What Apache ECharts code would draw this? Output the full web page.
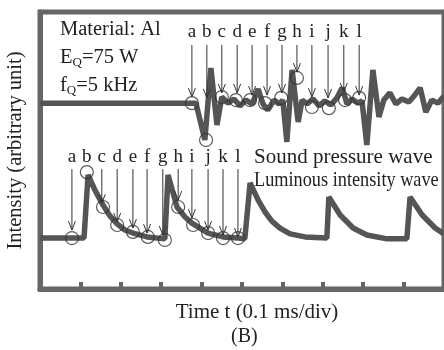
<!DOCTYPE html>
<html>
<head>
<meta charset="utf-8">
<script src="https://cdn.jsdelivr.net/npm/echarts@6/dist/echarts.min.js"></script>
<style>
  html, body { margin: 0; padding: 0; background: #fff; }
  #chart { width: 444px; height: 350px; }
</style>
</head>
<body>
<div id="chart"></div>
<script>
// time in divisions (0.1 ms/div), intensity in arbitrary units (0-100)
var soundWave = [
  [0, 67.1], [3.86, 67.1], [4.08, 53.8], [4.23, 79.8], [4.38, 59.2], [4.50, 69.3],
  [4.65, 67.1], [4.80, 68.6], [4.95, 66.1], [5.10, 68.2], [5.25, 66.8], [5.40, 72.2],
  [5.52, 66.8], [5.64, 64.6], [5.79, 68.2], [5.92, 66.8], [6.01, 68.2], [6.11, 53.1],
  [6.24, 79.1], [6.39, 60.3], [6.49, 68.2], [6.61, 66.8], [6.76, 68.6], [6.91, 66.1],
  [7.05, 67.9], [7.20, 66.4], [7.35, 69.0], [7.48, 72.6], [7.60, 66.8], [7.72, 68.6],
  [7.87, 67.1], [7.97, 67.9], [8.09, 52.0], [8.24, 79.1], [8.39, 62.1], [8.51, 68.2],
  [8.66, 70.8], [8.81, 66.8], [8.96, 68.6], [9.13, 67.5], [9.26, 69.7], [9.41, 72.6],
  [9.55, 63.9], [9.70, 68.2], [9.85, 67.1], [10, 69.7]
];
var lightWave = [
  [0, 18.4], [1.09, 18.4], [1.19, 41.2], [1.36, 35.7], [1.56, 30.3], [1.73, 26.4],
  [1.91, 23.5], [2.10, 21.3], [2.30, 20.2], [2.65, 18.8], [3.09, 18.1], [3.17, 41.2],
  [3.39, 29.6], [3.59, 26.0], [3.76, 23.8], [4.16, 20.2], [4.53, 18.8], [4.90, 18.4],
  [5.07, 18.1], [5.20, 38.3], [5.40, 32.1], [5.57, 27.8], [5.74, 24.5], [5.94, 22.0],
  [6.19, 19.9], [6.56, 18.8], [7.10, 18.4], [7.15, 33.2], [7.43, 26.7], [7.75, 22.0],
  [8.09, 19.5], [8.59, 18.1], [9.08, 18.1], [9.16, 33.2], [9.46, 26.7], [9.78, 22.0],
  [10, 19.9]
];

var letters = ['a', 'b', 'c', 'd', 'e', 'f', 'g', 'h', 'i', 'j', 'k', 'l'];

// upper set: arrow x, arrow start, arrow tip, circle x, circle y
var upArrowX = [3.76, 4.13, 4.50, 4.88, 5.25, 5.62, 5.99, 6.36, 6.73, 7.13, 7.52, 7.90];
var upArrowTop = 88.1;
var upArrowTip = [69.3, 69.0, 70.8, 70.8, 70.0, 70.0, 70.8, 78.3, 69.3, 69.0, 71.1, 70.0];
var upCircleX = [3.76, 4.11, 4.50, 4.85, 5.20, 5.57, 5.97, 6.36, 6.73, 7.15, 7.55, 7.90];
var upCircleY = [67.1, 53.8, 69.3, 68.2, 68.2, 67.1, 69.0, 76.2, 65.7, 65.3, 68.2, 69.0];

// lower set (b has no arrow)
var lowArrowX = [0.79, 1.16, 1.53, 1.91, 2.30, 2.65, 3.04, 3.42, 3.76, 4.16, 4.53, 4.90];
var lowArrowTop = 43.3;
var lowArrowTip = [21.3, null, 31.0, 24.2, 22.0, 20.2, 19.5, 32.1, 25.6, 21.3, 19.5, 18.8];
var lowCircleX = [0.79, 1.16, 1.56, 1.91, 2.30, 2.67, 3.09, 3.42, 3.79, 4.16, 4.53, 4.90];
var lowCircleY = [18.4, 42.2, 29.6, 23.1, 20.6, 18.8, 17.7, 29.6, 23.1, 20.2, 18.4, 18.4];

var FONT = 'Liberation Serif';
var INK = '#555';

function arrowData(xs, top, tips) {
  return xs.map(function (x, i) { return [x, top, tips[i] == null ? top : tips[i], i]; });
}
function circleData(xs, ys) {
  return xs.map(function (x, i) { return [x, ys[i]]; });
}

function renderArrow(params, api) {
  var s = api.coord([api.value(0), api.value(1)]);
  var t = api.coord([api.value(0), api.value(2)]);
  var children = [{
    type: 'text',
    style: {
      x: s[0], y: s[1] - 3, text: letters[api.value(3)],
      font: '19px ' + FONT, fill: '#222', align: 'center', verticalAlign: 'bottom'
    }
  }];
  if (t[1] - s[1] > 2) {
    children.push({
      type: 'line',
      shape: { x1: s[0], y1: s[1], x2: t[0], y2: t[1] },
      style: { stroke: '#333', lineWidth: 1 }
    });
    children.push({
      type: 'polyline',
      shape: { points: [[t[0] - 3.5, t[1] - 9], [t[0], t[1]], [t[0] + 3.5, t[1] - 9]] },
      style: { stroke: '#333', lineWidth: 1, fill: null }
    });
  }
  return { type: 'group', children: children };
}

var chart = echarts.init(document.getElementById('chart'));
chart.setOption({
  animation: false,
  backgroundColor: '#fff',
  grid: {
    left: 40, right: 0, top: 12, bottom: 61,
    outerBoundsMode: 'none',
    show: true, borderColor: '#666', borderWidth: 5
  },
  xAxis: {
    type: 'value', min: 0, max: 10, interval: 1,
    name: 'Time t (0.1 ms/div)', nameLocation: 'middle', nameGap: 13,
    nameTextStyle: { fontFamily: FONT, fontSize: 21, color: '#222', padding: [0, 0, 0, 30] },
    axisLine: { show: true, lineStyle: { color: '#666', width: 5 } },
    axisTick: { show: true, inside: true, length: 7, lineStyle: { color: '#666', width: 4 } },
    axisLabel: { show: false },
    splitLine: { show: false }
  },
  yAxis: {
    type: 'value', min: 0, max: 100,
    name: 'Intensity (arbitrary unit)', nameLocation: 'middle', nameGap: 14,
    nameTextStyle: { fontFamily: FONT, fontSize: 20.5, color: '#222' },
    axisLine: { show: true, lineStyle: { color: '#666', width: 5 } },
    axisTick: { show: false },
    axisLabel: { show: false },
    splitLine: { show: false }
  },
  graphic: [
    {
      type: 'text', left: 60, top: 19,
      style: { text: 'Material: Al', font: '20.5px ' + FONT, fill: '#222' }
    },
    {
      type: 'text', left: 60, top: 47,
      style: {
        text: 'E{s|Q}=75 W', font: '20.5px ' + FONT, fill: '#222',
        rich: { s: { fontSize: 13, fontFamily: FONT, verticalAlign: 'bottom', padding: [10, 0, 0, 0] } }
      }
    },
    {
      type: 'text', left: 60, top: 75,
      style: {
        text: 'f{s|Q}=5 kHz', font: '20.5px ' + FONT, fill: '#222',
        rich: { s: { fontSize: 13, fontFamily: FONT, verticalAlign: 'bottom', padding: [10, 0, 0, 0] } }
      }
    },
    {
      type: 'text', left: 254, top: 147,
      style: { text: 'Sound pressure wave', font: '21px ' + FONT, fill: '#222' }
    },
    {
      type: 'text', left: 254, top: 170, scaleX: 0.87,
      style: { text: 'Luminous intensity wave', font: '21px ' + FONT, fill: '#222' }
    },
    {
      type: 'text', left: 231, top: 327,
      style: { text: '(B)', font: '20px ' + FONT, fill: '#222' }
    }
  ],
  series: [
    {
      name: 'Sound pressure wave', type: 'line', data: soundWave,
      symbol: 'none', lineStyle: { color: INK, width: 5.5 }, z: 3
    },
    {
      name: 'Luminous intensity wave', type: 'line', data: lightWave,
      symbol: 'none', lineStyle: { color: INK, width: 5.5 }, z: 3
    },
    {
      type: 'scatter', data: circleData(upCircleX, upCircleY), symbolSize: 13,
      itemStyle: { color: 'rgba(0,0,0,0)', borderColor: '#333', borderWidth: 1.2 }, z: 4
    },
    {
      type: 'scatter', data: circleData(lowCircleX, lowCircleY), symbolSize: 13,
      itemStyle: { color: 'rgba(0,0,0,0)', borderColor: '#333', borderWidth: 1.2 }, z: 4
    },
    { type: 'custom', renderItem: renderArrow, data: arrowData(upArrowX, upArrowTop, upArrowTip), z: 5 },
    { type: 'custom', renderItem: renderArrow, data: arrowData(lowArrowX, lowArrowTop, lowArrowTip), z: 5 }
  ]
});
</script>
</body>
</html>
